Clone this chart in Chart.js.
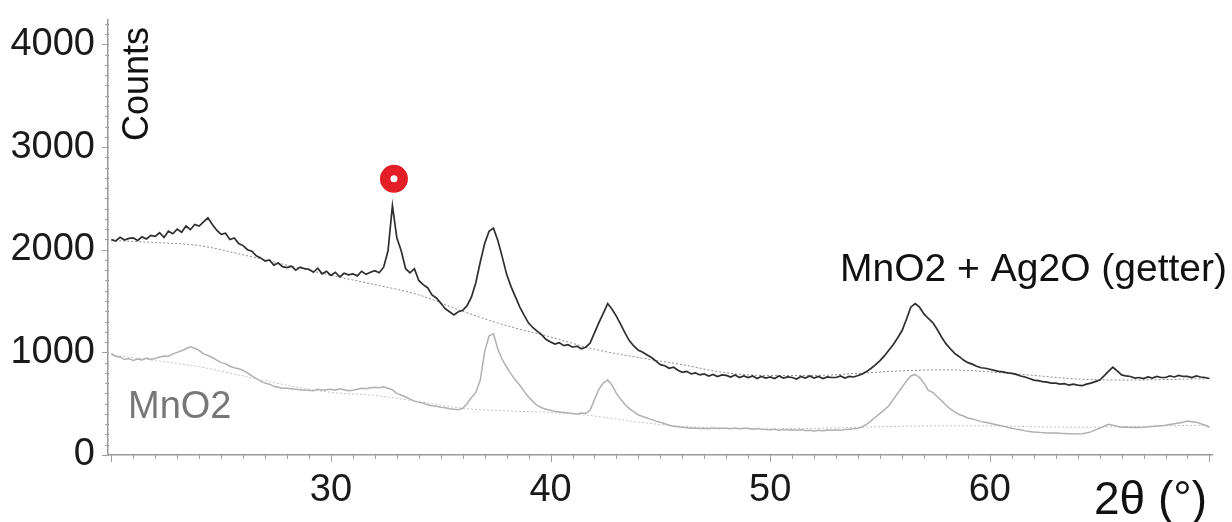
<!DOCTYPE html>
<html>
<head>
<meta charset="utf-8">
<script src="https://cdn.jsdelivr.net/npm/chart.js@4.4.1/dist/chart.umd.min.js"></script>
<style>
  html, body { margin: 0; padding: 0; background: #ffffff; }
  #wrap { width: 1232px; height: 522px; position: relative; }
</style>
</head>
<body>
<div id="wrap"><canvas id="c" width="1232" height="522"></canvas></div>
<script>
// 2θ positions (degrees), 0.2° step
const theta = [
20.0,20.2,20.4,20.6,20.8, 21.0,21.2,21.4,21.6,21.8, 22.0,22.2,22.4,22.6,22.8, 23.0,23.2,23.4,23.6,23.8,
24.0,24.2,24.4,24.6,24.8, 25.0,25.2,25.4,25.6,25.8, 26.0,26.2,26.4,26.6,26.8, 27.0,27.2,27.4,27.6,27.8,
28.0,28.2,28.4,28.6,28.8, 29.0,29.2,29.4,29.6,29.8, 30.0,30.2,30.4,30.6,30.8, 31.0,31.2,31.4,31.6,31.8,
32.0,32.2,32.4,32.6,32.8, 33.0,33.2,33.4,33.6,33.8, 34.0,34.2,34.4,34.6,34.8, 35.0,35.2,35.4,35.6,35.8,
36.0,36.2,36.4,36.6,36.8, 37.0,37.2,37.4,37.6,37.8, 38.0,38.2,38.4,38.6,38.8, 39.0,39.2,39.4,39.6,39.8,
40.0,40.2,40.4,40.6,40.8, 41.0,41.2,41.4,41.6,41.8, 42.0,42.2,42.4,42.6,42.8, 43.0,43.2,43.4,43.6,43.8,
44.0,44.2,44.4,44.6,44.8, 45.0,45.2,45.4,45.6,45.8, 46.0,46.2,46.4,46.6,46.8, 47.0,47.2,47.4,47.6,47.8,
48.0,48.2,48.4,48.6,48.8, 49.0,49.2,49.4,49.6,49.8, 50.0,50.2,50.4,50.6,50.8, 51.0,51.2,51.4,51.6,51.8,
52.0,52.2,52.4,52.6,52.8, 53.0,53.2,53.4,53.6,53.8, 54.0,54.2,54.4,54.6,54.8, 55.0,55.2,55.4,55.6,55.8,
56.0,56.2,56.4,56.6,56.8, 57.0,57.2,57.4,57.6,57.8, 58.0,58.2,58.4,58.6,58.8, 59.0,59.2,59.4,59.6,59.8,
60.0,60.2,60.4,60.6,60.8, 61.0,61.2,61.4,61.6,61.8, 62.0,62.2,62.4,62.6,62.8, 63.0,63.2,63.4,63.6,63.8,
64.0,64.2,64.4,64.6,64.8, 65.0,65.2,65.4,65.6,65.8, 66.0,66.2,66.4,66.6,66.8, 67.0,67.2,67.4,67.6,67.8,
68.0,68.2,68.4,68.6,68.8, 69.0,69.2,69.4,69.6,69.8, 70.0
];

// MnO2 + Ag2O (getter) counts
const countsGetter = [
2100,2085,2120,2095,2110, 2115,2090,2125,2105,2140, 2130,2165,2120,2180,2155, 2200,2170,2230,2195,2245,
2230,2270,2310,2245,2190, 2150,2160,2100,2115,2060, 2040,2000,1985,1940,1920, 1890,1900,1850,1870,1835,
1825,1840,1800,1830,1815, 1810,1780,1820,1765,1790, 1750,1780,1735,1770,1755, 1765,1745,1790,1760,1780,
1795,1775,1830,1990,2430, 2115,1990,1815,1775,1815, 1700,1660,1630,1560,1530, 1480,1425,1395,1365,1395,
1410,1455,1540,1680,1880, 2060,2180,2210,2090,1930, 1760,1640,1540,1440,1360, 1285,1240,1205,1170,1125,
1100,1080,1095,1065,1075, 1050,1060,1035,1050,1090, 1190,1290,1380,1475,1420, 1350,1270,1185,1110,1060,
1020,1000,975,950,915, 880,870,845,855,825, 805,815,790,800,780, 790,770,785,765,780,
775,760,780,755,770, 755,770,745,765,750, 760,745,770,750,760, 755,740,765,750,770,
750,765,745,760,755, 755,770,750,765,760, 775,790,815,845,880, 920,965,1020,1075,1140,
1210,1320,1440,1475,1440, 1375,1330,1290,1225,1150, 1085,1035,990,960,925, 900,885,865,850,845,
835,825,815,810,800, 795,785,770,760,745, 730,725,715,710,700, 700,690,695,680,690,
680,675,690,700,715, 730,770,815,855,820, 780,770,765,750,755, 745,760,750,765,755,
755,770,760,775,765, 765,755,770,760,755, 745
];

// MnO2 counts
const countsMnO2 = [
990,960,955,930,940, 920,935,925,945,930, 940,955,965,960,985, 1000,1015,1035,1055,1040,
1020,985,970,950,925, 900,890,865,850,840, 825,800,770,745,720, 700,690,670,660,650,
650,645,640,635,630, 630,625,640,630,635, 640,630,645,635,625, 630,640,650,645,655,
660,655,665,650,635, 600,585,565,545,525, 515,505,490,480,475, 465,460,450,445,440,
455,500,560,610,730, 1010,1160,1180,1030,930, 855,790,730,680,620, 565,520,480,460,445,
435,425,420,415,410, 405,400,410,405,435, 540,640,700,730,680, 600,540,490,450,420,
390,375,360,345,330, 320,305,290,280,275, 270,265,260,262,258, 260,255,262,258,260,
260,256,262,255,260, 260,252,258,250,248, 245,250,242,248,244, 245,240,246,238,242,
235,240,236,244,240, 245,240,248,252,255, 260,275,300,335,370, 405,440,480,540,600,
660,720,770,785,755, 700,630,610,570,530, 485,450,420,395,380, 360,350,340,325,318,
310,300,290,280,270, 260,252,245,235,230, 225,222,218,215,214, 215,212,210,208,206,
205,208,215,225,245, 260,280,300,290,280, 270,272,268,270,268, 270,275,278,282,286,
290,298,305,312,320, 330,325,320,305,290, 270
];

// fitted backgrounds (dotted)
const bgTheta = [20,22,24,26,28,30,32,34,36,38,40,42,44,46,48,50,52,54,56,58,60,62,64,66,68,70];
const bgGetter = [2090,2070,2040,1950,1850,1750,1660,1560,1400,1260,1150,1030,950,880,800,775,775,795,820,830,810,775,740,730,735,745];
const bgMnO2 = [975,920,860,770,680,610,580,520,455,430,415,380,320,280,260,255,260,270,280,285,285,275,270,275,285,290];

// marked reflection
const markTheta = [32.87];
const markCounts = [2690];

// axis ticks
const xLabelTicks = [30, 40, 50, 60];
const yLabelTicks = [0, 1000, 2000, 3000, 4000];
const xMinorStep = 1;
const yMinorStep = 100;

const pts = (xs, ys) => xs.map((x, i) => ({ x: x, y: ys[i] }));
const FONT = "'Liberation Sans', Arial, Helvetica, sans-serif";

const minorTicksPlugin = {
  id: 'minorTicks',
  afterDraw(chart) {
    const ctx = chart.ctx, xs = chart.scales.x, ys = chart.scales.y;
    const ca = chart.chartArea;
    ctx.save();
    ctx.strokeStyle = '#a0a0a0';
    ctx.lineWidth = 1;
    ctx.beginPath();
    for (let v = Math.ceil(xs.min); v <= xs.max; v += xMinorStep) {
      const px = Math.round(xs.getPixelForValue(v)) + 0.5;
      const len = (v % 10 === 0) ? 7 : 4;
      ctx.moveTo(px, ca.bottom);
      ctx.lineTo(px, ca.bottom + len);
    }
    for (let v = 0; v <= ys.max; v += yMinorStep) {
      const py = Math.round(ys.getPixelForValue(v)) + 0.5;
      const len = (v % 1000 === 0) ? 6 : 3;
      ctx.moveTo(ca.left - len, py);
      ctx.lineTo(ca.left + 1, py);
    }
    ctx.stroke();
    ctx.restore();
  }
};

const textPlugin = {
  id: 'texts',
  afterDraw(chart) {
    const ctx = chart.ctx;
    ctx.save();
    ctx.fillStyle = '#111';
    ctx.font = '36px ' + FONT;
    ctx.translate(148, 84);
    ctx.rotate(-Math.PI / 2);
    ctx.textAlign = 'center';
    ctx.textBaseline = 'alphabetic';
    ctx.fillText('Counts', 0, 0);
    ctx.restore();

    ctx.save();
    ctx.font = '39px ' + FONT;
    ctx.fillStyle = '#111';
    ctx.textAlign = 'right';
    ctx.textBaseline = 'alphabetic';
    ctx.fillText('MnO2 + Ag2O (getter)', 1227, 281);

    ctx.font = '38px ' + FONT;
    ctx.fillStyle = '#777';
    ctx.textAlign = 'left';
    ctx.fillText('MnO2', 128, 418);

    ctx.font = '46px ' + FONT;
    ctx.fillStyle = '#111';
    ctx.textAlign = 'left';
    ctx.fillText('2\u03B8 (\u00B0)', 1094, 514);
    ctx.restore();
  }
};

function zeroPad(s) { s.paddingTop = 0; s.paddingBottom = 0; s.paddingLeft = 0; s.paddingRight = 0; }

new Chart(document.getElementById('c'), {
  type: 'line',
  data: {
    datasets: [
      { data: pts(markTheta, markCounts), showLine: false, pointRadius: 8.75, pointBorderWidth: 10.5,
        pointBorderColor: '#e41e26', pointBackgroundColor: '#ffffff', order: 0 },
      { data: pts(theta, countsGetter), borderColor: '#2e2e2e', borderWidth: 1.7, pointRadius: 0, order: 1 },
      { data: pts(theta, countsMnO2), borderColor: '#b0b0b0', borderWidth: 1.5, pointRadius: 0, order: 2 },
      { data: pts(bgTheta, bgGetter), borderColor: '#8c8c8c', borderWidth: 1, borderDash: [2, 2], pointRadius: 0, cubicInterpolationMode: 'monotone', order: 3 },
      { data: pts(bgTheta, bgMnO2), borderColor: '#c4c4c4', borderWidth: 1, borderDash: [2, 2], pointRadius: 0, cubicInterpolationMode: 'monotone', order: 4 }
    ]
  },
  options: {
    responsive: false,
    devicePixelRatio: 1,
    animation: false,
    layout: { padding: { top: 13, right: 7, left: 0, bottom: 0 } },
    plugins: { legend: { display: false }, tooltip: { enabled: false } },
    scales: {
      x: {
        type: 'linear', min: 19.85, max: 70.15,
        afterBuildTicks(s) { s.ticks = xLabelTicks.map(v => ({ value: v })); },
        afterFit(s) { s.height = 67; zeroPad(s); },
        border: { color: '#9a9a9a', width: 1.5 },
        grid: { display: false, drawOnChartArea: false, drawTicks: false },
        ticks: {
          autoSkip: false, maxRotation: 0, padding: 13,
          color: '#1a1a1a', font: { family: FONT, size: 38 },
          callback: (v) => String(v)
        }
      },
      y: {
        type: 'linear', min: 0, max: 4245,
        afterBuildTicks(s) { s.ticks = yLabelTicks.map(v => ({ value: v })); },
        afterFit(s) { s.width = 108; zeroPad(s); },
        border: { color: '#9a9a9a', width: 1.5 },
        grid: { display: false, drawOnChartArea: false, drawTicks: false },
        ticks: {
          autoSkip: false, padding: 13,
          color: '#1a1a1a', font: { family: FONT, size: 38, lineHeight: 0.5 },
          callback: (v) => String(v)
        }
      }
    }
  },
  plugins: [minorTicksPlugin, textPlugin]
});
</script>
</body>
</html>
